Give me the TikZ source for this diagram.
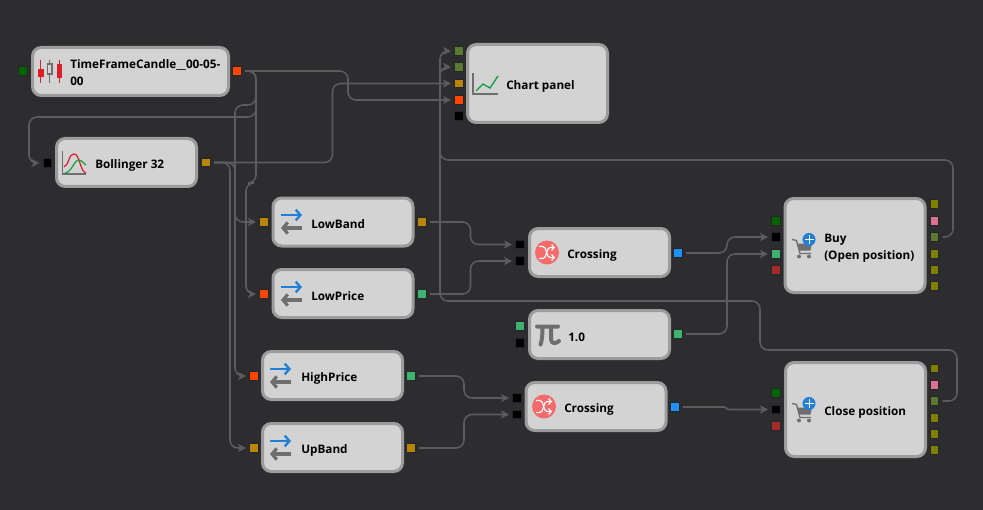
\documentclass[tikz,border=0pt]{standalone}
\usepackage{fontspec}
\setmainfont{Open Sans}
\usetikzlibrary{arrows.meta}
\definecolor{bgdark}{HTML}{2D2D30}
\definecolor{wiregray}{HTML}{5C5C5C}
\definecolor{blockfill}{HTML}{D3D3D3}
\definecolor{blockline}{HTML}{9C9C9C}
\definecolor{iconblue}{HTML}{2080D8}
\definecolor{icongray}{HTML}{6E6E6E}
\definecolor{candlered}{HTML}{D92028}
\definecolor{chartgreen}{HTML}{10A040}
\definecolor{crossred}{HTML}{F56A6A}
\definecolor{pgold}{HTML}{B8860B}
\definecolor{porange}{HTML}{FF4500}
\definecolor{pgreen}{HTML}{006400}
\definecolor{pmoss}{HTML}{5A7A32}
\definecolor{psea}{HTML}{3CB371}
\definecolor{pblue}{HTML}{1E90FF}
\definecolor{polive}{HTML}{808000}
\definecolor{ppink}{HTML}{DB7093}
\definecolor{pred}{HTML}{A52A2A}
\tikzset{
  block/.style={draw=blockline, fill=blockfill, line width=2.25pt, rounded corners=6.5pt,
    minimum width=105pt, minimum height=36pt, inner sep=0pt},
  port/.style={draw=black!85, line width=0.6pt, minimum size=6.4pt, inner sep=0pt, outer sep=2.8pt},
  lbl/.style={anchor=west, inner sep=0pt, font=\bfseries\fontsize{8.8}{12.75}\selectfont, text=black, align=left},
  wire/.style={draw=wiregray, line width=1.15pt, rounded corners=6pt},
  pics/swapicon/.style={code={
    \draw[iconblue, line width=1.8pt, -{Straight Barb[length=3.5pt,width=8pt]}] (9,18) -- (30,18);
    \draw[icongray, line width=2.4pt, -{Straight Barb[length=3.5pt,width=8.5pt]}] (30,31) -- (9,31);
  }},
  pics/crossicon/.style={code={
    \fill[crossred] (0,0) circle (9pt);
    \draw[white, line width=0.9pt, -{Straight Barb[length=2pt,width=4.5pt]}] (-8,-6) -- (-4,-6) .. controls (0,-6) and (-1,5) .. (3,5) -- (8,5);
    \draw[white, line width=0.9pt, -{Straight Barb[length=2pt,width=4.5pt]}] (-8,6) -- (-4,6) .. controls (0,6) and (-1,-5) .. (3,-5) -- (8,-5);
  }},
  pics/carticon/.style={code={
    \draw[icongray, line width=1pt] (0,0) -- (4.5,1) -- (8,14) -- (19,14);
    \fill[icongray] (5,4) -- (20,4) -- (18.5,11) -- (7,11) -- cycle;
    \fill[icongray] (7,17) circle (1.5pt) (17,17) circle (1.5pt);
    \fill[iconblue] (17,0) circle (4.9pt);
    \draw[white, line width=0.7pt] (12.5,0) -- (21.5,0) (17,-4.5) -- (17,4.5);
  }}
}
\begin{document}
\begin{tikzpicture}[x=0.75pt, y=-0.75pt, >={Stealth[length=6pt,width=6pt,inset=1.6pt]}]
  \fill[bgdark] (0,0) rectangle (983,510);
  \useasboundingbox (0,0) rectangle (983,510);

  % blocks
  \node[block, minimum width=147pt] (tfc) at (130.5,71.5) {};
  \node[block] (bollinger) at (126.5,162.5) {};
  \node[block, minimum height=58.5pt] (chart) at (537.5,83.5) {};
  \node[block] (lowband) at (343,222) {};
  \node[block] (lowprice) at (343,293.5) {};
  \node[block] (highprice) at (332.5,375.5) {};
  \node[block] (upband) at (332.5,447.5) {};
  \node[block] (crossa) at (599.5,252.5) {};
  \node[block] (constval) at (599.5,334.5) {};
  \node[block] (crossb) at (596,406.5) {};
  \node[block, minimum height=70.5pt] (buy) at (855,245.5) {};
  \node[block, minimum height=70.5pt] (closepos) at (855.5,409.5) {};

  % labels
  \node[lbl] (tfctext) at (70,73) {TimeFrameCandle\_\_00-05-\\00};
  \node[lbl] (bollingertext) at (95,165) {Bollinger 32};
  \node[lbl] (charttext) at (506,86.5) {Chart panel};
  \node[lbl] (lowbandtext) at (311,224) {LowBand};
  \node[lbl] (lowpricetext) at (311,296) {LowPrice};
  \node[lbl] (highpricetext) at (301,378) {HighPrice};
  \node[lbl] (upbandtext) at (301,450) {UpBand};
  \node[lbl] (crossatext) at (567,255.5) {Crossing};
  \node[lbl] (constvaltext) at (568,337) {1.0};
  \node[lbl] (crossbtext) at (564,409.5) {Crossing};
  \node[lbl] (buytext) at (824,248) {Buy\\(Open position)};
  \node[lbl] (closetext) at (824,412.5) {Close position};

  % ports
  \node[port, fill=pgreen] (tfcin) at (23,71) {};
  \node[port, fill=porange] (tfcout) at (237,71) {};
  \node[port, fill=black] (bollingerin) at (47.5,163) {};
  \node[port, fill=pgold] (bollingerout) at (206,162.5) {};
  \node[port, fill=pmoss] (charta) at (459,51) {};
  \node[port, fill=pmoss] (chartb) at (459,67) {};
  \node[port, fill=pgold] (chartc) at (459,83.5) {};
  \node[port, fill=porange] (chartd) at (459,100) {};
  \node[port, fill=black] (charte) at (459,116) {};
  \node[port, fill=pgold] (lowbandin) at (264,222) {};
  \node[port, fill=pgold] (lowbandout) at (422,222) {};
  \node[port, fill=porange] (lowpricein) at (264,294) {};
  \node[port, fill=psea] (lowpriceout) at (422,294) {};
  \node[port, fill=porange] (highpricein) at (254,376) {};
  \node[port, fill=psea] (highpriceout) at (411,376) {};
  \node[port, fill=pgold] (upbandin) at (254,448) {};
  \node[port, fill=pgold] (upbandout) at (411,448) {};
  \node[port, fill=black] (crossaina) at (520,244.5) {};
  \node[port, fill=black] (crossainb) at (520,261) {};
  \node[port, fill=pblue] (crossaout) at (678,253) {};
  \node[port, fill=psea] (constvalina) at (520,326) {};
  \node[port, fill=black] (constvalinb) at (520,343) {};
  \node[port, fill=psea] (constvalout) at (678,334) {};
  \node[port, fill=black] (crossbina) at (517,398) {};
  \node[port, fill=black] (crossbinb) at (517,414.5) {};
  \node[port, fill=pblue] (crossbout) at (675,407) {};
  \node[port, fill=pgreen] (buyina) at (776,221) {};
  \node[port, fill=black] (buyinb) at (776,237) {};
  \node[port, fill=psea] (buyinc) at (776,254) {};
  \node[port, fill=pred] (buyind) at (776,270) {};
  \node[port, fill=polive] (buyouta) at (934.5,204) {};
  \node[port, fill=ppink] (buyoutb) at (934.5,221) {};
  \node[port, fill=pmoss] (buyoutc) at (934.5,237) {};
  \node[port, fill=polive] (buyoutd) at (934.5,254) {};
  \node[port, fill=polive] (buyoute) at (934.5,270) {};
  \node[port, fill=polive] (buyoutf) at (934.5,286) {};
  \node[port, fill=pgreen] (closeina) at (776,393) {};
  \node[port, fill=black] (closeinb) at (776,409.5) {};
  \node[port, fill=pred] (closeinc) at (776,426) {};
  \node[port, fill=polive] (closeouta) at (934.5,368.5) {};
  \node[port, fill=ppink] (closeoutb) at (934.5,385) {};
  \node[port, fill=pmoss] (closeoutc) at (934.5,401) {};
  \node[port, fill=polive] (closeoutd) at (934.5,418) {};
  \node[port, fill=polive] (closeoute) at (934.5,434) {};
  \node[port, fill=polive] (closeoutf) at (934.5,450) {};

  % connectors
  \draw[wire, ->] (tfcout.east) -| (256,117) -| (29,163) -- (bollingerin.west);
  \draw[wire, ->] (tfcout.east) -| (348,100) -- (chartd.west);
  \draw[wire, ->] (tfcout.east) -| (256,183) -| (246,294) -- (lowpricein.west);
  \draw[wire, ->] (tfcout.east) -| (256,105) -| (235,376) -- (highpricein.west);
  \draw[wire, ->] (bollingerout.east) -| (332.5,83.5) -- (chartc.west);
  \draw[wire, ->] (bollingerout.east) -| (235,222) -- (lowbandin.west);
  \draw[wire, ->] (bollingerout.east) -| (230,448) -- (upbandin.west);
  \draw[wire, ->] (lowbandout.east) -| (470.5,244.5) -- (crossaina.west);
  \draw[wire, ->] (lowpriceout.east) -| (470.5,261) -- (crossainb.west);
  \draw[wire, ->] (highpriceout.east) -| (464,398) -- (crossbina.west);
  \draw[wire, ->] (upbandout.east) -| (464,414.5) -- (crossbinb.west);
  \draw[wire, ->] (crossaout.east) -| (727,237) -- (buyinb.west);
  \draw[wire, ->] (constvalout.east) -| (727,254) -- (buyinc.west);
  \draw[wire, rounded corners=0.8pt, ->] (crossbout.east) -- (725.5,407) -- (727.5,409.5) -- (closeinb.west);
  \draw[wire, ->] (buyoutc.east) -| (953,160) -| (440,51) -- (charta.west);
  \draw[wire, ->] (closeoutc.east) -| (957,350) -| (760,301) -| (440,67) -- (chartb.west);

  % icons
  \draw[candlered, line width=1pt] (40.7,60) -- (40.7,83);
  \fill[candlered] (38,69) rectangle (43.5,77);
  \draw[icongray, line width=1pt] (49.7,60) -- (49.7,64) (49.7,74) -- (49.7,83);
  \draw[icongray, line width=1pt] (47.5,64) rectangle (52,74);
  \draw[candlered, line width=1pt] (59.3,60) -- (59.3,83);
  \fill[candlered] (56.5,64) rectangle (62,78);
  \draw[icongray, line width=0.8pt] (62.5,151) -- (62.5,174) -- (86,174);
  \draw[candlered, line width=0.9pt] (64,167) .. controls (70,164) and (68,154) .. (74,154) .. controls (80,154) and (80,172) .. (86,173);
  \draw[chartgreen, line width=0.9pt] (65,173) .. controls (72,172) and (74,160) .. (79,160) .. controls (82,160) and (84,164) .. (86,165);
  \draw[icongray, line width=0.8pt] (473,73) -- (473,94) -- (498,94);
  \draw[chartgreen, line width=1pt] (476,91) -- (483,84) -- (490,88) -- (498,76);
  \pic at (272,197) {swapicon};
  \pic at (272,269) {swapicon};
  \pic at (261,351) {swapicon};
  \pic at (261,423) {swapicon};
  \pic at (547,252.5) {crossicon};
  \pic at (544,406.5) {crossicon};
  \draw[icongray, line width=3pt, line cap=round] (537,326.5) -- (558,326.5) (542.5,326.5) .. controls (542.5,336) and (542,340) .. (540.5,344.5) (551,326.5) -- (551,339) .. controls (551,344) and (556,344) .. (559,341);
  \pic at (792,239.5) {carticon};
  \pic at (792,403.5) {carticon};
\end{tikzpicture}
\end{document}
